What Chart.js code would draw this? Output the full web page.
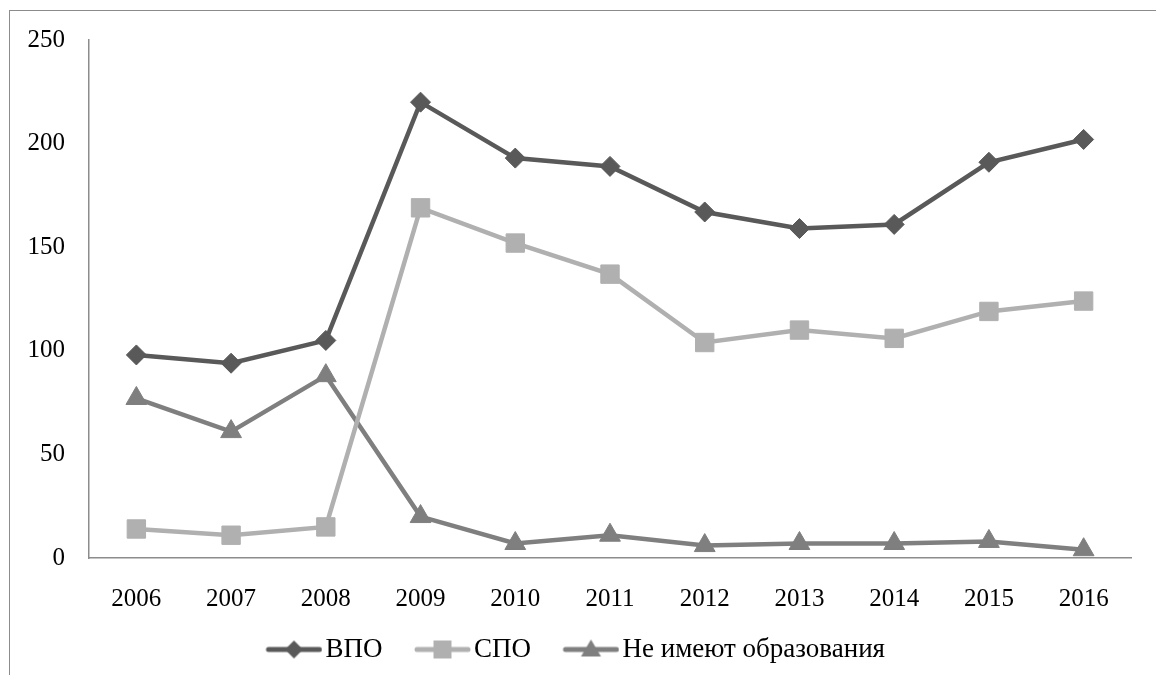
<!DOCTYPE html>
<html>
<head>
<meta charset="utf-8">
<script src="https://cdn.jsdelivr.net/npm/chart.js@4.4.1/dist/chart.umd.min.js"></script>
<style>
  html, body { margin: 0; padding: 0; background: #fff; }
  #frame {
    position: absolute; left: 9px; top: 10px; width: 1200px; height: 700px;
    border-left: 1.5px solid #8c8c8c; border-top: 1.5px solid #8c8c8c;
  }
  #wrap { position: absolute; left: 0; top: 0; width: 1156px; height: 675px; }
</style>
</head>
<body>
<div id="frame"></div>
<div id="wrap"><canvas id="eduChart"></canvas></div>
<script>
// Data
const years = ['2006', '2007', '2008', '2009', '2010', '2011', '2012', '2013', '2014', '2015', '2016'];
const vpo = [98, 94, 105, 220, 193, 189, 167, 159, 161, 191, 202];
const spo = [14, 11, 15, 169, 152, 137, 104, 110, 106, 119, 124];
const noEdu = [77, 61, 88, 20, 7, 11, 6, 7, 7, 8, 4];
const yTicks = [0, 50, 100, 150, 200, 250];

const FONT = '"Liberation Serif", "Times New Roman", serif';
const LEG_SIZE = 27;
const ICON_BOX = 66;                    // legend box width given to Chart.js
const ICON_W = ICON_BOX + LEG_SIZE - 6; // real icon canvas width (left part stays empty)

// legend icon: short line with the marker in the middle, drawn in the right 57px
function legendIcon(color, style) {
  const c = document.createElement('canvas');
  const w = ICON_W, h = 22;
  c.width = w; c.height = h;
  const g = c.getContext('2d');
  const x0 = w - 57;
  g.strokeStyle = color;
  g.fillStyle = color;
  g.lineWidth = 5;
  g.lineCap = 'round';
  g.beginPath();
  g.moveTo(x0 + 3, h / 2);
  g.lineTo(w - 3, h / 2);
  g.stroke();
  const cx = x0 + 28.5, cy = h / 2;
  g.beginPath();
  if (style === 'diamond') {
    g.moveTo(cx, cy - 9); g.lineTo(cx + 9, cy); g.lineTo(cx, cy + 9); g.lineTo(cx - 9, cy);
  } else if (style === 'square') {
    g.rect(cx - 9, cy - 9, 18, 18);
  } else {
    g.moveTo(cx, cy - 10); g.lineTo(cx + 10, cy + 7); g.lineTo(cx - 10, cy + 7);
  }
  g.closePath();
  g.fill();
  return c;
}

const colVpo = '#595959';
const colSpo = '#b0b0b0';
const colNo = '#7f7f7f';

const icons = [
  legendIcon(colVpo, 'diamond'),
  legendIcon(colSpo, 'square'),
  legendIcon(colNo, 'triangle')
];

const data = {
  labels: years,
  datasets: [
    {
      label: 'ВПО',
      data: vpo,
      borderColor: colVpo,
      backgroundColor: colVpo,
      borderWidth: 4.5,
      pointStyle: 'rectRot',
      pointRadius: 10,
      pointBorderWidth: 1,
      tension: 0,
      clip: false
    },
    {
      label: 'СПО',
      data: spo,
      borderColor: colSpo,
      backgroundColor: colSpo,
      borderWidth: 4.5,
      pointStyle: 'rect',
      pointRadius: 13,
      pointBorderWidth: 1,
      tension: 0,
      clip: false
    },
    {
      label: 'Не имеют образования',
      data: noEdu,
      borderColor: colNo,
      backgroundColor: colNo,
      borderWidth: 4.5,
      pointStyle: 'triangle',
      pointRadius: 12,
      pointBorderWidth: 1,
      tension: 0,
      clip: false
    }
  ]
};

const config = {
  type: 'line',
  data: data,
  options: {
    responsive: false,
    animation: false,
    devicePixelRatio: 1,
    layout: { padding: { left: 0, right: 25, top: 40, bottom: 2 } },
    scales: {
      x: {
        offset: true,
        grid: { display: false, drawTicks: false, offset: true },
        border: { display: true, color: '#8c8c8c', width: 1.5 },
        ticks: { color: '#000', padding: 26, font: { family: FONT, size: 25 }, maxRotation: 0 },
        afterFit: (s) => { s.height = 66; }
      },
      y: {
        min: 0,
        max: 250,
        afterBuildTicks: (s) => { s.ticks = yTicks.map(v => ({ value: v })); },
        grid: { display: false, drawTicks: false },
        border: { display: true, color: '#8c8c8c', width: 1.5 },
        ticks: { color: '#000', padding: 24, font: { family: FONT, size: 25 } },
        afterFit: (s) => { s.width = 89; }
      }
    },
    plugins: {
      legend: {
        position: 'bottom',
        labels: {
          color: '#000',
          font: { family: FONT, size: LEG_SIZE },
          usePointStyle: true,
          pointStyleWidth: ICON_BOX,
          padding: 12,
          generateLabels: (chart) => chart.data.datasets.map((ds, i) => ({
            text: ds.label,
            pointStyle: icons[i],
            fillStyle: ds.backgroundColor,
            strokeStyle: ds.borderColor,
            lineWidth: 0,
            fontColor: '#000',
            hidden: false,
            datasetIndex: i
          }))
        }
      },
      tooltip: { enabled: false }
    }
  }
};

const cv = document.getElementById('eduChart');
cv.width = 1156;
cv.height = 675;
cv.style.width = '1156px';
cv.style.height = '675px';
new Chart(cv, config);
</script>
</body>
</html>
